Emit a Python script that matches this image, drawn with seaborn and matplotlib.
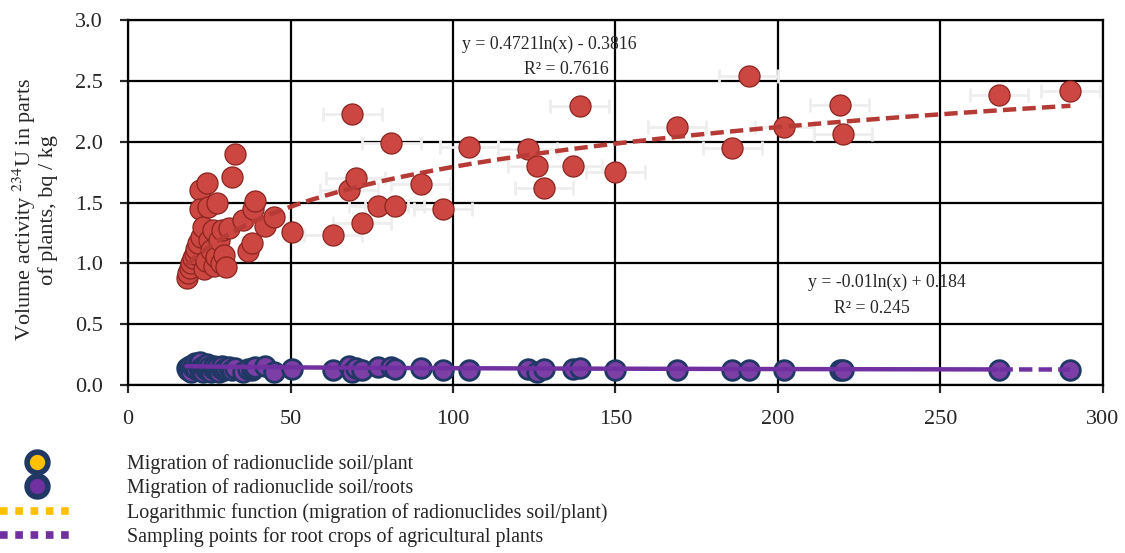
import numpy as np
import pandas as pd
import matplotlib.pyplot as plt
from matplotlib.lines import Line2D
import seaborn as sns

# sampling points (x) with activity in plants (red) and roots (purple)
x_vals = [18.0, 18.5, 19.0, 19.5, 20.0, 20.5, 21.0, 21.5, 22.0, 22.2, 22.5, 23.0, 23.5, 24.0,
          24.3, 24.5, 25.0, 25.5, 26.0, 26.5, 27.0, 27.4, 28.0, 28.5, 29.0, 29.5, 30.0, 31.0,
          32, 33, 35.5, 37, 38, 38.5, 39, 42, 45, 50.5, 63, 68, 69, 70, 72, 77, 81, 82, 90, 97,
          105, 123, 126, 128, 137, 139, 150, 169, 186, 191, 202, 219, 220, 268, 290]
plant_vals = [0.88, 0.92, 0.96, 1.00, 1.04, 1.08, 1.12, 1.17, 1.60, 1.45, 1.22, 1.30, 0.95, 1.02,
              1.66, 1.46, 1.19, 1.11, 1.27, 0.98, 1.05, 1.50, 1.19, 1.00, 1.27, 1.07, 0.97, 1.29,
              1.71, 1.90, 1.36, 1.10, 1.17, 1.45, 1.51, 1.31, 1.38, 1.26, 1.23, 1.60, 2.23, 1.70,
              1.33, 1.47, 1.99, 1.47, 1.65, 1.45, 1.96, 1.94, 1.80, 1.62, 1.80, 2.29, 1.75, 2.12,
              1.95, 2.54, 2.12, 2.30, 2.06, 2.38, 2.42]
root_vals = [0.14, 0.12, 0.16, 0.11, 0.15, 0.18, 0.13, 0.17, 0.12, 0.19, 0.14, 0.11, 0.16, 0.13,
             0.17, 0.12, 0.15, 0.11, 0.14, 0.16, 0.12, 0.15, 0.11, 0.14, 0.16, 0.12, 0.14, 0.15,
             0.12, 0.14, 0.11, 0.13, 0.12, 0.14, 0.15, 0.16, 0.11, 0.13, 0.12, 0.16, 0.11, 0.14,
             0.12, 0.15, 0.15, 0.13, 0.14, 0.12, 0.12, 0.13, 0.11, 0.13, 0.13, 0.14, 0.12, 0.12,
             0.12, 0.12, 0.12, 0.12, 0.12, 0.12, 0.12]
x_err = 9

# trend lines given on the chart
plant_fit = (0.4721, -0.3816)
root_fit = (-0.01, 0.184)

df = pd.DataFrame({'x': x_vals, 'plant': plant_vals, 'root': root_vals})

sns.set_style('white')
plt.rcParams['font.family'] = ['Liberation Serif', 'DejaVu Serif']
plt.rcParams['mathtext.fontset'] = 'stix'

red = '#cd4742'
line_red = '#b63a35'
purple = '#7030a0'
navy = '#1f3864'
yellow = '#ffc000'

fig, ax = plt.subplots(figsize=(11.25, 5.53), dpi=100)
fig.subplots_adjust(left=0.1138, right=0.9804, top=0.9638, bottom=0.3038)

# faint horizontal error bars (only noticeable on the spread-out points)
far = df[df['x'] > 60]
ax.errorbar(far['x'], far['plant'], xerr=x_err, fmt='none', ecolor='#eeeeee',
            elinewidth=2, capsize=5, capthick=2, zorder=2.5)

sns.scatterplot(data=df, x='x', y='plant', ax=ax, s=230, color=red,
                edgecolor='#8a2420', linewidth=0.9, zorder=3, legend=False)
sns.scatterplot(data=df, x='x', y='root', ax=ax, s=200, color='#7b3fa6',
                edgecolor=navy, linewidth=2, zorder=3, legend=False)

# trend lines
xf = np.linspace(min(x_vals), max(x_vals), 300)
ax.plot(xf, plant_fit[0] * np.log(xf) + plant_fit[1], color=line_red, lw=3.2,
        dashes=(3, 1.4), zorder=4)
xs = xf[xf <= 268]
xd = xf[xf >= 268]
ax.plot(xs, root_fit[0] * np.log(xs) + root_fit[1], color=purple, lw=3.2, zorder=4)
ax.plot(xd, root_fit[0] * np.log(xd) + root_fit[1], color=purple, lw=3.2,
        dashes=(3, 1.4), zorder=4)

ax.text(129.5, 2.80, 'y = 0.4721ln(x) - 0.3816', ha='center', va='center', fontsize=12.8, zorder=5)
ax.text(135, 2.59, 'R² = 0.7616', ha='center', va='center', fontsize=12.8, zorder=5)
ax.text(233.5, 0.84, 'y = -0.01ln(x) + 0.184', ha='center', va='center', fontsize=12.8, zorder=5)
ax.text(229, 0.63, 'R² = 0.245', ha='center', va='center', fontsize=12.8, zorder=5)

ax.set_xlim(0, 300)
ax.set_ylim(0, 3.0)
ax.set_xticks(np.arange(0, 301, 50))
ax.set_yticks(np.arange(0, 3.01, 0.5))
ax.set_yticklabels([f'{v:.1f}' for v in np.arange(0, 3.01, 0.5)])
ax.grid(True, color='black', lw=1.6)
ax.set_axisbelow(True)
for sp in ax.spines.values():
    sp.set_color('black')
    sp.set_linewidth(1.6)
ax.tick_params(direction='out', length=6, width=1.6, labelsize=16, pad=12,
               left=True, bottom=True)
ax.set_xlabel('')
ax.set_ylabel('Volume activity $^{234}$U in parts\nof plants, bq / kg', fontsize=16,
              linespacing=1.0)
ax.yaxis.set_label_coords(-0.072, 0.48)

handles = [
    Line2D([], [], ls='none', marker='o', markersize=15, markerfacecolor=yellow,
           markeredgecolor=navy, markeredgewidth=4),
    Line2D([], [], ls='none', marker='o', markersize=15, markerfacecolor=purple,
           markeredgecolor=navy, markeredgewidth=4),
    Line2D([], [], color=yellow, lw=5.5, dashes=(1, 1), dash_capstyle='butt'),
    Line2D([], [], color=purple, lw=5.5, dashes=(1, 1), dash_capstyle='butt'),
]
labels = ['Migration of radionuclide soil/plant',
          'Migration of radionuclide soil/roots',
          'Logarithmic function (migration of radionuclides soil/plant)',
          'Sampling points for root crops of agricultural plants']
fig.legend(handles, labels, loc='upper left', bbox_to_anchor=(0.0, 1 - 454 / 553),
           frameon=False, fontsize=14.4, handlelength=3.7, handletextpad=2.65,
           borderpad=0, borderaxespad=0, labelspacing=0.22)

plt.savefig('out.png', dpi=100)
